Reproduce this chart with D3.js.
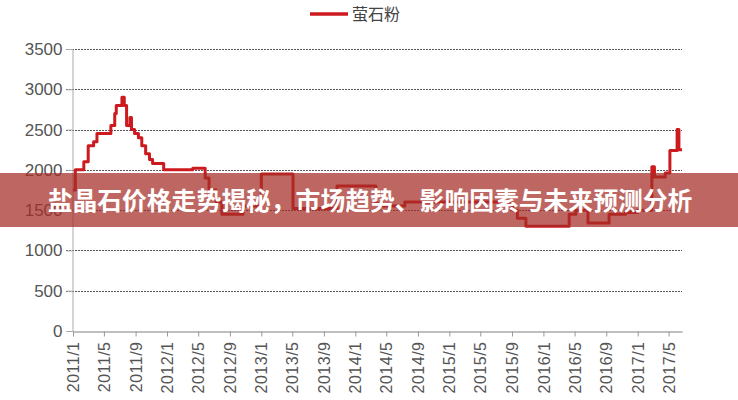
<!DOCTYPE html>
<html><head><meta charset="utf-8">
<script src="https://cdn.jsdelivr.net/npm/d3@7"></script>
<style>
html,body{margin:0;padding:0;background:#fff;}
svg{display:block;}
</style></head>
<body>
<svg id="c" width="738" height="400"></svg>
<script>
// ---- data ----
const seriesName = "萤石粉";
const stepDates = ["2011-01-01","2011-01-10","2011-02-12","2011-03-01","2011-03-22","2011-04-04","2011-05-28","2011-06-12","2011-06-18","2011-07-10","2011-07-19","2011-07-28","2011-08-10","2011-08-16","2011-08-28","2011-09-12","2011-09-25","2011-10-10","2011-10-25","2011-11-06","2011-12-19","2012-04-10","2012-05-28","2012-06-12","2012-07-10","2012-08-01","2012-10-22","2013-01-01","2013-05-04","2013-10-22","2014-03-22","2014-04-18","2014-07-12","2015-09-04","2015-09-22","2015-10-25","2016-04-10","2016-05-06","2016-06-22","2016-09-12","2016-11-15","2017-01-01","2017-02-25","2017-03-07","2017-04-18","2017-05-06","2017-06-03","2017-06-10","2017-06-22"];
const prices = [1750,2000,2100,2300,2350,2450,2550,2700,2800,2900,2800,2550,2650,2500,2450,2400,2300,2200,2130,2080,2000,2020,1900,1750,1600,1450,1550,1950,1520,1800,1580,1550,1600,1500,1400,1300,1450,1500,1340,1450,1470,1500,2040,1910,1960,2240,2500,2250,2250];
const yTicks = [0,500,1000,1500,2000,2500,3000,3500];
const xTickLabels = ["2011/1","2011/5","2011/9","2012/1","2012/5","2012/9","2013/1","2013/5","2013/9","2014/1","2014/5","2014/9","2015/1","2015/5","2015/9","2016/1","2016/5","2016/9","2017/1","2017/5"];
const title = "盐晶石价格走势揭秘，市场趋势、影响因素与未来预测分析";

// ---- chart ----
const svg = d3.select("#c");
const parseDay = d3.timeParse("%Y-%m-%d");
const parseTick = d3.timeParse("%Y/%m");
const data = stepDates.map((d,i)=>({date:parseDay(d), v:prices[i]}));
const tickDates = xTickLabels.map(parseTick);

const x = d3.scaleTime().domain([parseDay("2011-01-01"), parseDay("2017-06-22")]).range([73, 682]);
const y = d3.scaleLinear().domain([0,3500]).range([331, 49]);

// gridlines
svg.append("g").selectAll("line").data(yTicks.filter(d=>d>0)).join("line")
  .attr("x1",66).attr("x2",682)
  .attr("y1",d=>Math.round(y(d))+0.5).attr("y2",d=>Math.round(y(d))+0.5)
  .attr("stroke","#555").attr("stroke-width",1).attr("stroke-dasharray","2,1");

// y axis
const yAxis = svg.append("g").attr("transform","translate(72.5,0)")
  .call(d3.axisLeft(y).tickValues(yTicks).tickSize(6).tickPadding(4).tickFormat(d3.format("d")));
yAxis.select(".domain").attr("stroke","#aaa");
yAxis.selectAll(".tick line").attr("stroke","#aaa");
yAxis.selectAll("text").attr("fill","#555").style("font-family","'Liberation Sans',Arial,sans-serif").style("font-size","17px");

// x axis
const xAxis = svg.append("g").attr("transform","translate(0,331.5)")
  .call(d3.axisBottom(x).tickValues(tickDates).tickSize(5).tickSizeOuter(0).tickFormat((d,i)=>xTickLabels[i]));
xAxis.select(".domain").attr("stroke","#aaa").attr("stroke-width",1.5);
xAxis.selectAll(".tick line").attr("stroke","#999");
xAxis.selectAll("text")
  .attr("fill","#555").style("font-family","'Liberation Sans',Arial,sans-serif").style("font-size","16px")
  .style("letter-spacing","0.5px")
  .attr("transform","rotate(-90)").attr("text-anchor","end")
  .attr("x",-10).attr("y",0).attr("dy","0.35em");

// line
const line = d3.line().x(d=>x(d.date)).y(d=>y(d.v)).curve(d3.curveStepAfter);
svg.append("path").datum(data).attr("d",line)
  .attr("fill","none").attr("stroke","#cc1a1f").attr("stroke-width",3).attr("stroke-linejoin","round");

// legend
svg.append("line").attr("x1",310).attr("x2",348).attr("y1",14).attr("y2",14)
  .attr("stroke","#cc1a1f").attr("stroke-width",3.5);
svg.append("text").attr("x",352).attr("y",14).attr("dy","0.35em")
  .attr("fill","#444").style("font-family","'Noto Sans CJK SC',sans-serif").style("font-size","16px")
  .text(seriesName);

// banner
svg.append("rect").attr("x",0).attr("y",173).attr("width",738).attr("height",54)
  .attr("fill","rgb(165,45,38)").attr("fill-opacity",0.72);
svg.append("text").attr("x",370).attr("y",201).attr("dy","0.36em").attr("text-anchor","middle")
  .attr("fill","#fff").style("font-family","'Noto Sans CJK SC',sans-serif").style("font-weight","700").style("font-size","24.8px")
  .text(title);
</script>
</body></html>
